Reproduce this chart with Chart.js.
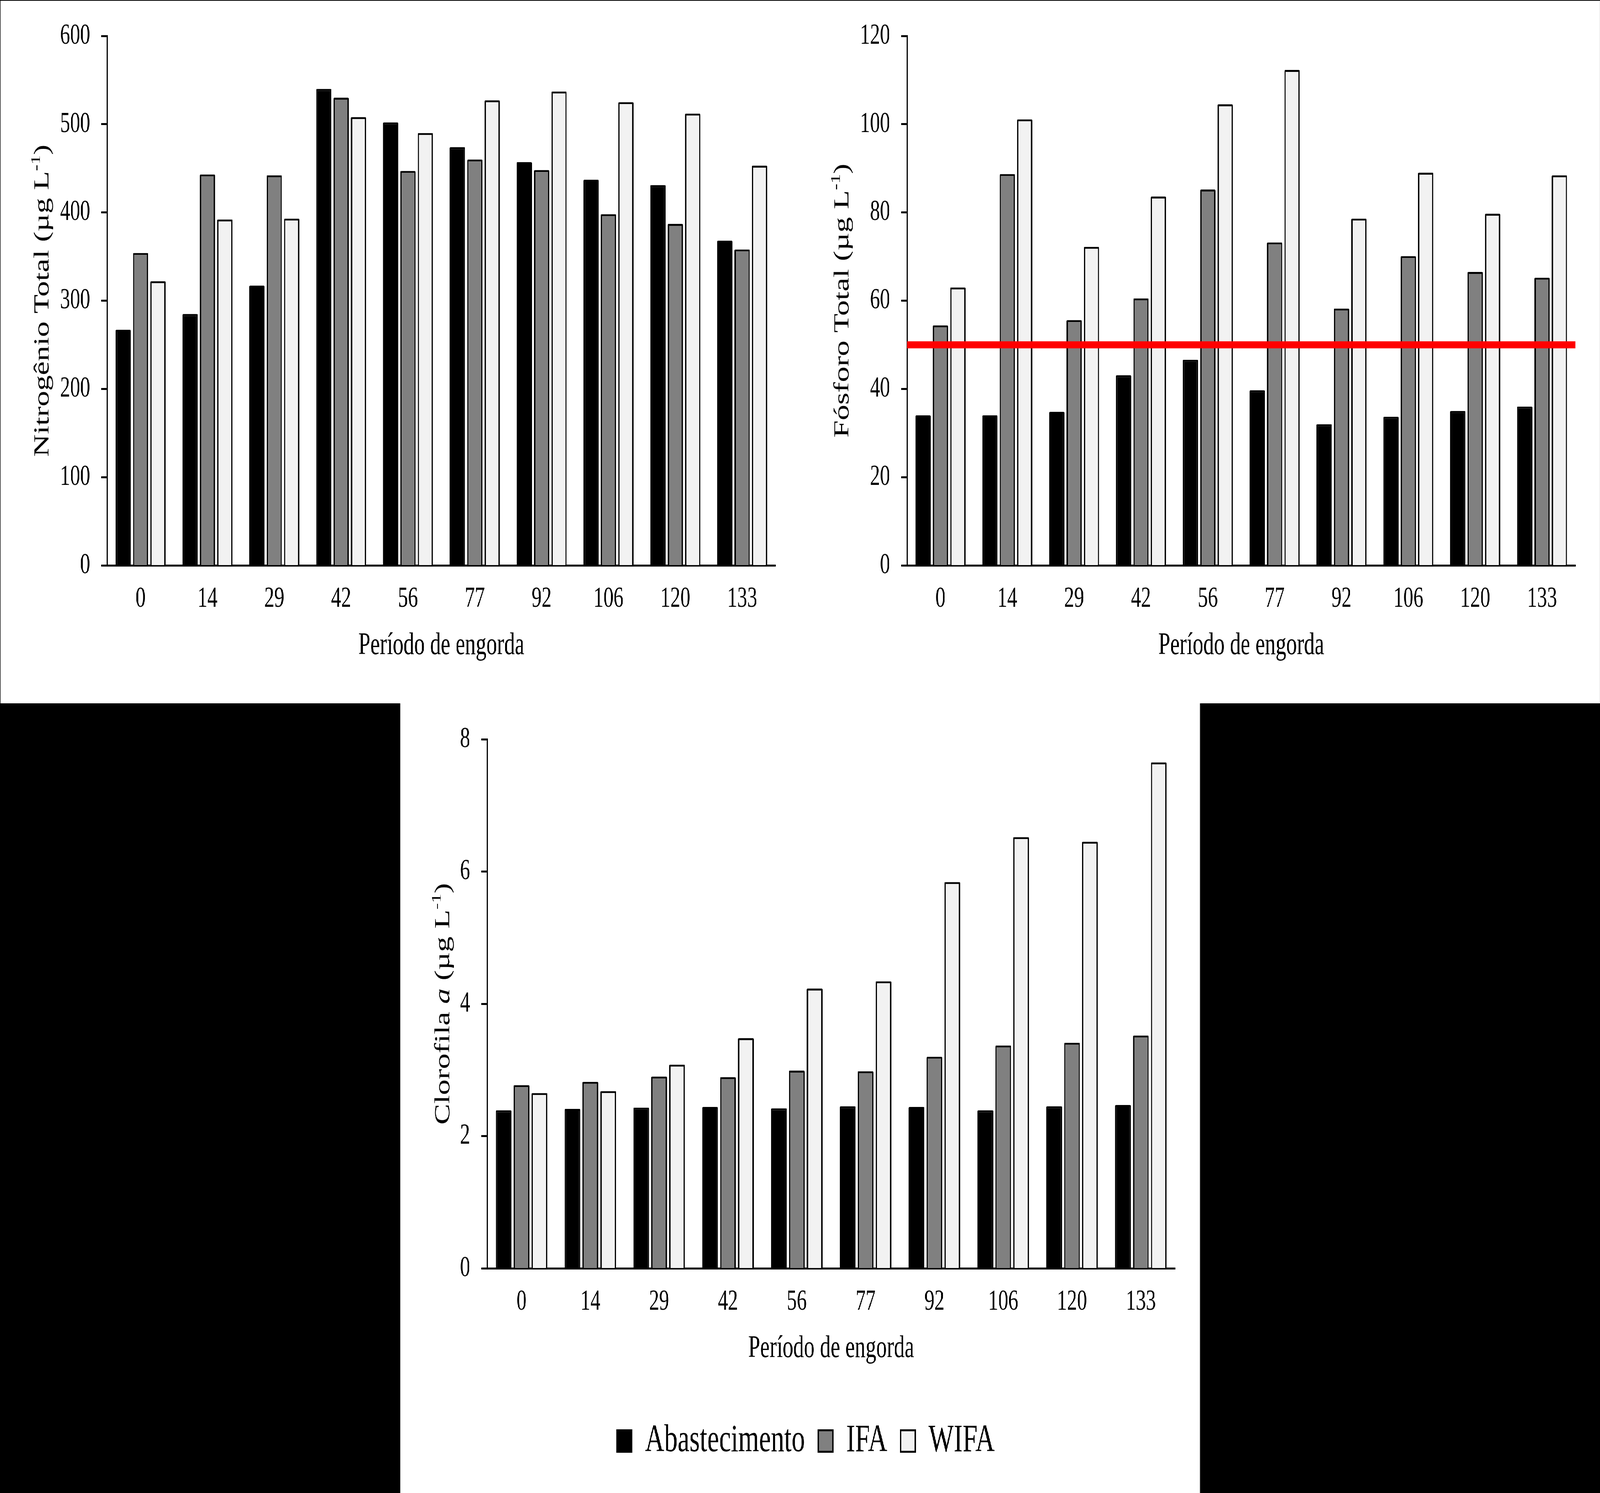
<!DOCTYPE html>
<html lang="pt">
<head>
<meta charset="utf-8">
<title>Nitrogênio, fósforo e clorofila no período de engorda</title>
<script src="https://cdn.jsdelivr.net/npm/chart.js@4.4.1/dist/chart.umd.min.js"></script>
<style>
  html, body { margin: 0; padding: 0; background: #000; overflow: hidden; }
  #pagina { position: absolute; left: 0; top: 0; width: 6001px; height: 3821px; transform-origin: 0 0; }
  .painel { position: absolute; background: #fff; }
  #topo { left: 0; top: 0; width: 6001px; height: 1800px; box-shadow: inset 2px 2px 0 #000; }
  #baixo { left: 1501px; top: 1800px; width: 3000px; height: 2021px; }
  canvas { position: absolute; top: 0; }
</style>
</head>
<body>
<div id="pagina">
  <div class="painel" id="topo">
    <canvas id="nitrogenioChart" width="3000" height="1800" style="left:0"></canvas>
    <canvas id="fosforoChart" width="3001" height="1800" style="left:3000px"></canvas>
  </div>
  <div class="painel" id="baixo">
    <canvas id="clorofilaChart" width="3000" height="2021" style="left:0"></canvas>
  </div>
</div>
<script>
// Dias do período de engorda
const dias = ["0", "14", "29", "42", "56", "77", "92", "106", "120", "133"];
const tratamentos = ["Abastecimento", "IFA", "WIFA"];

// Nitrogênio total (µg/L)
const nitrogenioAbast = [267, 285, 317, 540, 502, 474, 457, 437, 431, 368];
const nitrogenioIFA = [354, 443, 442, 530, 447, 460, 448, 398, 387, 358];
const nitrogenioWIFA = [322, 392, 393, 508, 490, 527, 537, 525, 512, 453];

// Fósforo total (µg/L)
const fosforoAbast = [34.0, 34.0, 34.8, 43.1, 46.6, 39.7, 32.0, 33.7, 35.0, 36.0];
const fosforoIFA = [54.4, 88.7, 55.6, 60.5, 85.2, 73.2, 58.2, 70.1, 66.5, 65.2];
const fosforoWIFA = [63.0, 101.1, 72.2, 83.6, 104.5, 112.3, 78.6, 89.0, 79.7, 88.4];
const limiteFosforo = 50;

// Clorofila a (µg/L)
const clorofilaAbast = [2.39, 2.41, 2.43, 2.44, 2.42, 2.45, 2.44, 2.39, 2.45, 2.47];
const clorofilaIFA = [2.77, 2.82, 2.90, 2.89, 2.99, 2.98, 3.20, 3.37, 3.41, 3.52];
const clorofilaWIFA = [2.65, 2.68, 3.08, 3.48, 4.23, 4.34, 5.84, 6.52, 6.45, 7.65];

const cores = ["#000000", "#808080", "#f2f2f2"];

// a página é desenhada em 6001x3821 e ajustada à janela
const pagina = document.getElementById("pagina");
const sx = window.innerWidth / 6001;
const sy = window.innerHeight / 3821;
pagina.style.transform = "scale(" + sx + "," + sy + ")";

Chart.defaults.font.family = '"Liberation Serif", "Times New Roman", serif';
Chart.defaults.color = "#000";

// Título do eixo y com sobrescrito e itálico
const tituloY = {
  id: "tituloY",
  afterDraw(chart, args, opts) {
    const { ctx, chartArea } = chart;
    const tam = opts.size;
    const fonte = (p) =>
      (p.italic ? "italic " : "") + (p.sup ? tam * 0.62 : tam) + 'px "Liberation Serif"';
    ctx.save();
    ctx.translate(opts.x, (chartArea.top + chartArea.bottom) / 2);
    ctx.rotate(-Math.PI / 2);
    ctx.fillStyle = "#000";
    ctx.textBaseline = "middle";
    ctx.textAlign = "left";
    let total = 0;
    opts.partes.forEach((p) => {
      ctx.font = fonte(p);
      total += ctx.measureText(p.text).width;
    });
    let x = -total / 2;
    opts.partes.forEach((p) => {
      ctx.font = fonte(p);
      ctx.fillText(p.text, x, p.sup ? -tam * 0.3 : 0);
      x += ctx.measureText(p.text).width;
    });
    ctx.restore();
  },
};

// Linha vermelha de referência
const linhaLimite = {
  id: "linhaLimite",
  afterDatasetsDraw(chart, args, opts) {
    if (opts.valor == null) return;
    const { ctx, chartArea, scales } = chart;
    const y = scales.y.getPixelForValue(opts.valor);
    ctx.save();
    ctx.strokeStyle = opts.cor;
    ctx.lineWidth = opts.largura;
    ctx.beginPath();
    ctx.moveTo(chartArea.left, y);
    ctx.lineTo(chartArea.right, y);
    ctx.stroke();
    ctx.restore();
  },
};

function criarGrafico(id, series, eixo, extra) {
  const datasets = series.map((dados, i) => ({
    label: tratamentos[i],
    data: dados,
    backgroundColor: cores[i],
    borderColor: "#000",
    borderWidth: 5,
    borderRadius: 3,
    categoryPercentage: 0.78,
    barPercentage: 0.88,
  }));

  return new Chart(document.getElementById(id), {
    type: "bar",
    data: { labels: dias, datasets: datasets },
    plugins: [tituloY, linhaLimite],
    options: {
      responsive: false,
      animation: false,
      devicePixelRatio: 1,
      layout: { padding: extra.padding },
      plugins: {
        legend: {
          display: !!extra.legenda,
          position: "bottom",
          labels: {
            font: { size: 100 },
            color: "#000",
            boxWidth: 55,
            boxHeight: 55,
            padding: 50,
          },
        },
        tooltip: { enabled: false },
        tituloY: { x: extra.tituloX, size: 80, partes: eixo.titulo },
        linhaLimite: { valor: extra.limite, cor: "#ff0000", largura: 18 },
      },
      scales: {
        x: {
          grid: { display: false, drawTicks: false },
          border: { display: true, color: "#000", width: 5 },
          ticks: { font: { size: 75 }, padding: 41, autoSkip: false, maxRotation: 0 },
          title: {
            display: true,
            text: "Período de engorda",
            font: { size: 80 },
            padding: { top: 0, bottom: 88 },
          },
          afterFit: (s) => { s.height = 342; },
        },
        y: {
          min: 0,
          max: eixo.max,
          ticks: { stepSize: eixo.passo, font: { size: 75 }, padding: 42 },
          grid: {
            drawOnChartArea: false,
            drawTicks: true,
            tickLength: 22,
            tickWidth: 5,
            tickColor: "#000",
          },
          border: { display: true, color: "#000", width: 5 },
          afterFit: (s) => { s.width = extra.larguraY; },
        },
      },
    },
  });
}

// Nitrogênio total
criarGrafico(
  "nitrogenioChart",
  [nitrogenioAbast, nitrogenioIFA, nitrogenioWIFA],
  {
    max: 600,
    passo: 100,
    titulo: [{ text: "Nitrogênio Total (µg L" }, { text: "-1", sup: true }, { text: ")" }],
  },
  { padding: { top: 92, right: 91, bottom: 11, left: 0 }, larguraY: 402, tituloX: 161 }
);

// Fósforo total
criarGrafico(
  "fosforoChart",
  [fosforoAbast, fosforoIFA, fosforoWIFA],
  {
    max: 120,
    passo: 20,
    titulo: [{ text: "Fósforo Total (µg L" }, { text: "-1", sup: true }, { text: ")" }],
  },
  {
    padding: { top: 92, right: 92, bottom: 11, left: 0 },
    larguraY: 402,
    tituloX: 161,
    limite: limiteFosforo,
  }
);

// Clorofila a
criarGrafico(
  "clorofilaChart",
  [clorofilaAbast, clorofilaIFA, clorofilaWIFA],
  {
    max: 8,
    passo: 2,
    titulo: [
      { text: "Clorofila " },
      { text: "a", italic: true },
      { text: " (µg L" },
      { text: "-1", sup: true },
      { text: ")" },
    ],
  },
  {
    padding: { top: 92, right: 93, bottom: 73, left: 136 },
    larguraY: 190,
    tituloX: 163,
    legenda: true,
  }
);
</script>
</body>
</html>
